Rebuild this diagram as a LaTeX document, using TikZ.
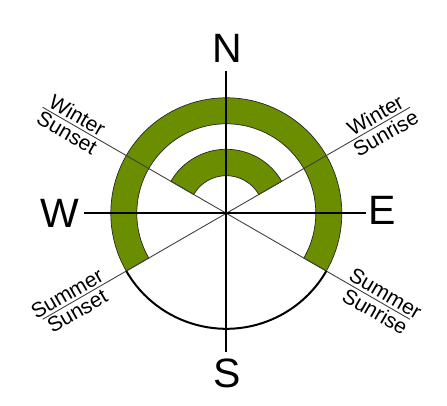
\documentclass[tikz,border=0pt]{standalone}
\usepackage{fontspec}
\setmainfont{Liberation Sans}
\begin{document}
\begin{tikzpicture}[x=1pt, y=1pt, font=\fontsize{21}{23}\selectfont]
		\definecolor{olivegreen}{RGB}{107,142,0}
		\tikzset{
			ring/.style={fill=olivegreen, draw=black!85, line width=0.7pt},
			axis/.style={line width=2pt},
			ray/.style={line width=0.9pt, black!75},
			point/.style={font=\fontsize{41}{45}\selectfont, inner sep=0pt},
			lab/.style={inner sep=2.5pt}
		}
		\useasboundingbox (-226.3,-192.7) rectangle (220.7,213.3);
		\coordinate (O) at (0,0);
		
		% 绿色环带
		\draw[ring] (-30:115.5) arc (-30:210:115.5) -- (210:89.5) arc (210:-30:89.5) -- cycle;
		\draw[ring] (30:64) arc (30:150:64) -- (150:37.6) arc (150:30:37.6) -- cycle;
		
		% 日出日落方向
		\foreach \a/\n in {30/ne, 150/nw, 210/sw, 330/se}
			\coordinate (\n) at (\a:212);
		\foreach \n in {ne, nw, sw, se}
			\draw[ray] (O) -- (\n);
		
		\node[lab, rotate=-30, anchor=south] (wset) at (150:178) {Winter};
		\node[lab, rotate=-30, anchor=north] (wset2) at (150:178) {Sunset};
		\node[lab, rotate=30, anchor=south] (wrise) at (30:178) {Winter};
		\node[lab, rotate=30, anchor=north] (wrise2) at (30:178) {Sunrise};
		\node[lab, rotate=30, anchor=south] (sset) at (210:178) {Summer};
		\node[lab, rotate=30, anchor=north] (sset2) at (210:178) {Sunset};
		\node[lab, rotate=-30, anchor=south] (srise) at (330:178) {Summer};
		\node[lab, rotate=-30, anchor=north] (srise2) at (330:178) {Sunrise};
		
		% 坐标轴
		\coordinate (n) at (0,142);
		\coordinate (s) at (0,-139);
		\coordinate (w) at (-142,0);
		\coordinate (e) at (140,0);
		\draw[axis] (n) -- (s);
		\draw[axis] (w) -- (e);
		\draw[axis] (210:115.5) arc (210:330:115.5);
		
		\node[point] (N) at (0.7,165) {N};
		\node[point] (S) at (1.2,-160) {S};
		\node[point] (W) at (-166,0.3) {W};
		\node[point] (E) at (156,2.5) {E};
		\end{tikzpicture}
\end{document}
